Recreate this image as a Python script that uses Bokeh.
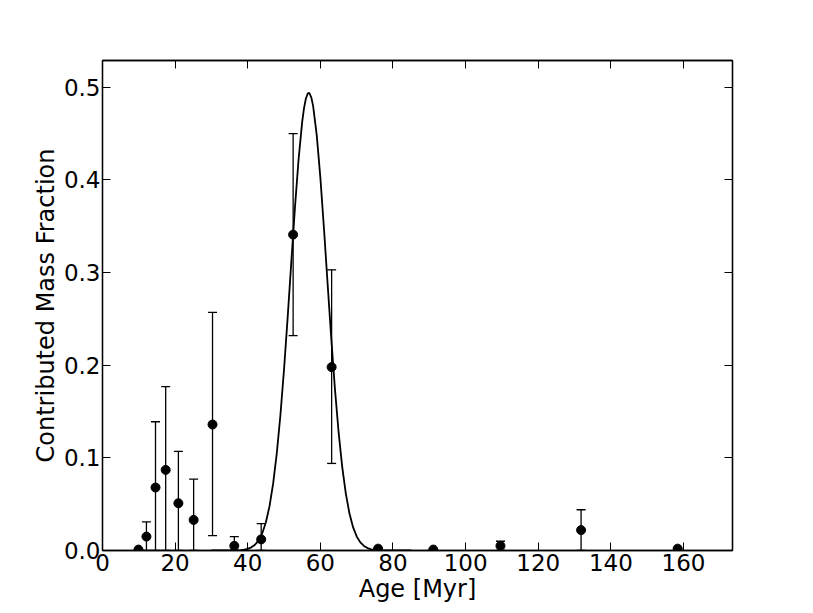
from bokeh.plotting import figure
from bokeh.models import (ColumnDataSource, Whisker, TeeHead, LinearAxis, FixedTicker,
                          PrintfTickFormatter, Range1d, CustomJSTickFormatter)
from bokeh.embed import file_html
from bokeh.resources import INLINE

# Data points
age = [9.9, 12.1, 14.6, 17.4, 20.9, 25.1, 30.3, 36.3, 43.7, 52.5, 63.1, 75.9, 91.1, 109.6, 131.8, 158.4]
frac = [0.001, 0.015, 0.068, 0.087, 0.051, 0.033, 0.136, 0.005, 0.012, 0.341, 0.198, 0.002, 0.001, 0.005, 0.022, 0.002]
frac_upper = [0.001, 0.031, 0.139, 0.177, 0.107, 0.077, 0.257, 0.015, 0.029, 0.450, 0.303, 0.002, 0.001, 0.010, 0.044, 0.002]
frac_lower = [0.001, 0.0, 0.0, 0.0, 0.0, 0.0, 0.016, 0.0, 0.0, 0.232, 0.094, 0.002, 0.001, 0.0, 0.0, 0.002]

# Fitted curve
curve_age = [30, 34, 36, 38, 39, 40, 41, 42, 43, 44, 45, 46, 47, 48, 49, 50, 51, 52, 53, 54, 55,
             55.5, 56, 56.5, 56.8, 57, 57.5, 58, 59, 60, 61, 62, 63, 64, 65, 66, 67, 68, 69, 70,
             71, 72, 73, 74, 75, 76, 78, 80, 85]
curve_frac = [0.0, 0.0, 0.0001, 0.0004, 0.0009, 0.0018, 0.0034, 0.0062, 0.0110, 0.0186, 0.0305,
              0.0479, 0.0724, 0.1050, 0.1463, 0.1959, 0.2520, 0.3116, 0.3701, 0.4222, 0.4630,
              0.4776, 0.4877, 0.4931, 0.4940, 0.4936, 0.4892, 0.4800, 0.4484, 0.4025, 0.3471,
              0.2877, 0.2290, 0.1752, 0.1287, 0.0909, 0.0617, 0.0402, 0.0252, 0.0152, 0.0088,
              0.0049, 0.0026, 0.0013, 0.0007, 0.0003, 0.0001, 0.0, 0.0]

x_ticks = [0, 20, 40, 60, 80, 100, 120, 140, 160]
y_ticks = [0.0, 0.1, 0.2, 0.3, 0.4, 0.5]

FONT = "DejaVu Sans"

p = figure(width=805, height=605, output_backend="svg", toolbar_location=None,
           x_range=Range1d(0, 173.5), y_range=Range1d(0, 0.529),
           min_border_left=102, min_border_right=73, min_border_top=60, min_border_bottom=53,
           x_axis_label="Age [Myr]", y_axis_label="Contributed Mass Fraction")

p.xgrid.visible = False
p.ygrid.visible = False
p.outline_line_color = "black"
p.outline_line_width = 1.3

for ax, ticks in ((p.xaxis[0], x_ticks), (p.yaxis[0], y_ticks)):
    ax.ticker = FixedTicker(ticks=ticks)
    ax.minor_tick_line_color = None
    ax.major_tick_in = 8
    ax.major_tick_out = 0
    ax.major_tick_line_color = "black"
    ax.major_tick_line_width = 1
    ax.axis_line_color = "black"
    ax.axis_line_width = 1.3
    ax.major_label_text_font = FONT
    ax.major_label_text_font_size = "23px"
    ax.major_label_text_color = "black"
    ax.axis_label_text_font = FONT
    ax.axis_label_text_font_size = "24px"
    ax.axis_label_text_font_style = "normal"
    ax.axis_label_text_color = "black"

p.yaxis[0].formatter = PrintfTickFormatter(format="%.1f")
p.xaxis[0].major_label_standoff = 3
p.xaxis[0].axis_label_standoff = 1
p.yaxis[0].major_label_standoff = 2
p.yaxis[0].axis_label_standoff = 1

# mirrored ticks on top and right (no labels)
blank = CustomJSTickFormatter(code="return ''")
top = LinearAxis(ticker=FixedTicker(ticks=x_ticks), formatter=blank,
                 major_tick_in=8, major_tick_out=0, minor_tick_line_color=None,
                 axis_line_color="black", axis_line_width=1.3, major_label_standoff=0)
right = LinearAxis(ticker=FixedTicker(ticks=y_ticks), formatter=blank,
                   major_tick_in=8, major_tick_out=0, minor_tick_line_color=None,
                   axis_line_color="black", axis_line_width=1.3, major_label_standoff=0)
p.add_layout(top, "above")
p.add_layout(right, "right")

src = ColumnDataSource(dict(age=age, frac=frac, upper=frac_upper, lower=frac_lower))
p.add_layout(Whisker(source=src, base="age", upper="upper", lower="lower",
                     line_color="black", line_width=1.3,
                     upper_head=TeeHead(size=9, line_color="black", line_width=1.3),
                     lower_head=TeeHead(size=9, line_color="black", line_width=1.3)))

p.line(curve_age, curve_frac, line_color="black", line_width=1.8)
p.scatter("age", "frac", source=src, size=9, fill_color="black", line_color="black")

open("out.html", "w").write(file_html(p, INLINE))
